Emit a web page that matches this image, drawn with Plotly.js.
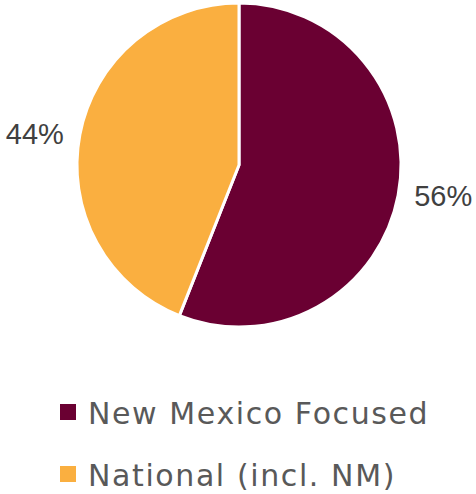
<!DOCTYPE html>
<html><head><meta charset="utf-8">
<script src="https://cdn.plot.ly/plotly-3.0.1.min.js"></script>
<style>html,body{margin:0;padding:0;background:#fff}
.legendtext{letter-spacing:1.6px}
.legend .scrollbox{transform:translate(0px,6px)}</style>
</head><body><div id="chart" style="width:476px;height:494px"></div>
<script>
const categories = ["New Mexico Focused", "National (incl. NM)"];
const shares = [56, 44];
const colors = ["#6A0032", "#FAAF40"];

const traces = [{
  type: "pie",
  labels: categories,
  values: shares,
  sort: false,
  direction: "clockwise",
  rotation: 0,
  marker: {colors: colors, line: {color: "#ffffff", width: 3}},
  textposition: "outside",
  texttemplate: ["\u00a0%{percent:.0%}", "%{percent:.0%}\u00a0"],
  textfont: {family: "Liberation Sans, Arial, sans-serif", size: 29, color: "#404040"},
  showlegend: false,
  hoverinfo: "none",
  domain: {x: [(239-162)/476, (239+162)/476], y: [(494-327)/494, (494-3)/494]}
}];
categories.forEach((c, i) => {
  traces.push({
    type: "scatter", mode: "markers", x: [null], y: [null], name: c,
    legendgroup: "g" + i,
    marker: {symbol: "square", size: 16, color: colors[i]},
    hoverinfo: "none"
  });
});

const layout = {
  width: 476, height: 494,
  margin: {l: 0, r: 0, t: 0, b: 0},
  paper_bgcolor: "#fff", plot_bgcolor: "#fff",
  xaxis: {visible: false}, yaxis: {visible: false},
  showlegend: true,
  legend: {
    x: 48/476, xanchor: "left", y: 0, yanchor: "bottom",
    traceorder: "grouped", tracegroupgap: 20,
    font: {family: "DejaVu Sans, sans-serif", size: 30, color: "#595959"},
    bgcolor: "rgba(0,0,0,0)"
  }
};
Plotly.newPlot("chart", traces, layout, {staticPlot: true, displayModeBar: false});
</script></body></html>
